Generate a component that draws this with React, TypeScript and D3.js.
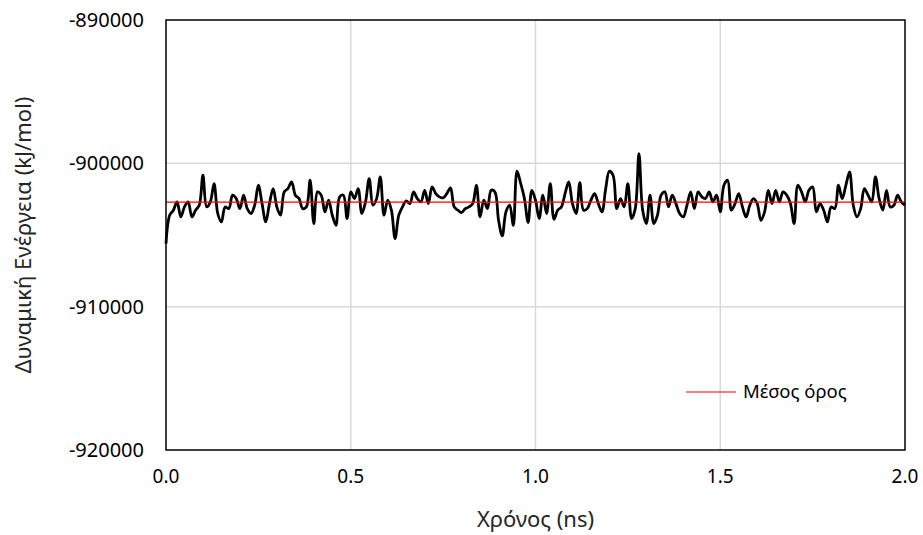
import { useEffect, useRef } from 'react';
import * as d3 from 'd3';

// sampling interval of the trajectory (ns)
const timeStep = 0.01;

// potential energy per frame (kJ/mol), t = 0 .. 2.0 ns
const energy = [
  -905600, -903620, -903270, -902690, -903740, -903040, -902690, -903740, -903270, -902920,
  -900830, -903040, -902690, -901410, -903500, -904090, -903040, -903160, -902220, -902460,
  -903160, -902220, -903160, -903500, -902920, -901530, -902810, -904090, -902810, -901760,
  -903040, -903620, -901990, -901760, -901290, -902220, -902460, -903160, -903040, -901180,
  -904200, -901990, -902220, -903390, -902570, -903620, -904320, -902340, -902220, -903850,
  -901990, -902460, -901760, -903500, -902690, -901060, -902920, -902460, -900950, -903620,
  -902570, -903270, -905250, -903620, -903040, -902620, -902810, -901990, -902460, -902690,
  -901880, -902810, -901640, -902110, -902340, -902410, -902110, -901710, -903040, -903270,
  -903430, -903160, -903040, -902810, -901530, -903740, -902570, -903160, -901880, -901990,
  -903970, -905060, -903390, -902920, -904320, -900550, -901410, -902460, -904130, -901880,
  -902570, -903850, -902220, -903500, -901410, -903900, -903270, -903040, -902110, -901290,
  -902810, -903500, -901340, -903270, -903160, -902570, -902110, -902810, -903390, -901760,
  -900550, -900830, -903160, -902460, -903040, -901410, -903850, -903160, -899320, -903270,
  -904200, -902220, -904200, -903620, -902220, -901990, -903040, -902220, -902810, -903500,
  -903740, -902920, -901990, -903160, -901990, -902340, -902460, -901990, -902690, -902220,
  -903390, -901530, -901180, -903270, -902810, -902110, -903040, -903740, -902920, -902460,
  -902810, -903970, -903390, -901880, -902810, -901880, -902690, -901990, -902220, -902810,
  -904200, -901530, -901990, -902690, -901880, -901640, -903390, -902810, -903270, -904090,
  -903040, -903160, -901530, -902460, -901530, -900600, -902920, -903740, -903160, -901760,
  -902220, -902690, -900950, -902460, -903270, -901880, -903040, -902920, -902220, -902690,
  -902920,
];

// mean value of the run (kJ/mol)
const meanEnergy = -902700;

const xTicks = [0, 0.5, 1.0, 1.5, 2.0];
const yTicks = [-920000, -910000, -900000, -890000];

const xLabel = 'Χρόνος (ns)';
const yLabel = 'Δυναμική Ενέργεια (kJ/mol)';
const legendLabel = 'Μέσος όρος';

const FONT = '"Noto Sans", "Open Sans", sans-serif';

export default function App() {
  const svgRef = useRef<SVGSVGElement>(null);

  useEffect(() => {
    const width = 923;
    const height = 535;
    const margin = { top: 20, right: 18, bottom: 85, left: 166 };
    const w = width - margin.left - margin.right;
    const h = height - margin.top - margin.bottom;

    const root = d3.select(svgRef.current);
    root.selectAll('*').remove();
    root.attr('width', width).attr('height', height);

    const svg = root.append('g')
      .attr('transform', `translate(${margin.left},${margin.top})`);

    const x = d3.scaleLinear().domain([0, 2]).range([0, w]);
    const y = d3.scaleLinear().domain([-920000, -890000]).range([h, 0]);

    // grid
    svg.append('g')
      .selectAll('line')
      .data(xTicks.slice(1, -1))
      .join('line')
      .attr('x1', d => x(d)).attr('x2', d => x(d))
      .attr('y1', 0).attr('y2', h)
      .attr('stroke', '#d9d9d9').attr('stroke-width', 1.5);

    svg.append('g')
      .selectAll('line')
      .data(yTicks.slice(1, -1))
      .join('line')
      .attr('x1', 0).attr('x2', w)
      .attr('y1', d => y(d)).attr('y2', d => y(d))
      .attr('stroke', '#d9d9d9').attr('stroke-width', 1.5);

    // energy trace
    const line = d3.line<number>()
      .x((_, i) => x(i * timeStep))
      .y(d => y(d))
      .curve(d3.curveCatmullRom.alpha(0.5));

    svg.append('path')
      .datum(energy)
      .attr('fill', 'none')
      .attr('stroke', '#000')
      .attr('stroke-width', 2.8)
      .attr('stroke-linejoin', 'round')
      .attr('d', line);

    // mean line
    svg.append('line')
      .attr('x1', x(0)).attr('x2', x(2))
      .attr('y1', y(meanEnergy)).attr('y2', y(meanEnergy))
      .attr('stroke', '#ff0000').attr('stroke-width', 1.2);

    // plot frame
    svg.append('rect')
      .attr('x', 0).attr('y', 0)
      .attr('width', w).attr('height', h)
      .attr('fill', 'none')
      .attr('stroke', '#000')
      .attr('stroke-width', 1.5);

    // tick labels
    svg.append('g')
      .selectAll('text')
      .data(xTicks)
      .join('text')
      .attr('x', d => x(d))
      .attr('y', h + 26)
      .attr('dy', '0.35em')
      .attr('text-anchor', 'middle')
      .style('font-family', FONT)
      .style('font-size', '19px')
      .attr('fill', '#000')
      .text(d => d.toFixed(1));

    svg.append('g')
      .selectAll('text')
      .data(yTicks)
      .join('text')
      .attr('x', -22)
      .attr('y', d => y(d))
      .attr('dy', '0.35em')
      .attr('text-anchor', 'end')
      .style('font-family', FONT)
      .style('font-size', '20px')
      .attr('fill', '#000')
      .text(d => String(d));

    // axis titles
    svg.append('text')
      .attr('x', w / 2)
      .attr('y', h + 69)
      .attr('dy', '0.35em')
      .attr('text-anchor', 'middle')
      .style('font-family', FONT)
      .style('font-size', '22px')
      .attr('fill', '#262626')
      .text(xLabel);

    svg.append('text')
      .attr('transform', 'rotate(-90)')
      .attr('x', -h / 2)
      .attr('y', 23 - margin.left)
      .attr('dy', '0.35em')
      .attr('text-anchor', 'middle')
      .style('font-family', FONT)
      .style('font-size', '22px')
      .attr('fill', '#262626')
      .text(yLabel);

    // legend
    const lg = svg.append('g').attr('transform', `translate(${686 - margin.left},${392 - margin.top})`);
    lg.append('line')
      .attr('x1', 0).attr('x2', 50)
      .attr('y1', 0).attr('y2', 0)
      .attr('stroke', '#ff0000').attr('stroke-width', 1.2);
    lg.append('text')
      .attr('x', 57)
      .attr('y', 0)
      .attr('dy', '0.35em')
      .style('font-family', FONT)
      .style('font-size', '18.5px')
      .attr('fill', '#000')
      .text(legendLabel);
  }, []);

  return (
    <div style={{ position: 'absolute', left: 0, top: 0 }}>
      <svg ref={svgRef} style={{ display: 'block', background: '#fff' }}></svg>
    </div>
  );
}
